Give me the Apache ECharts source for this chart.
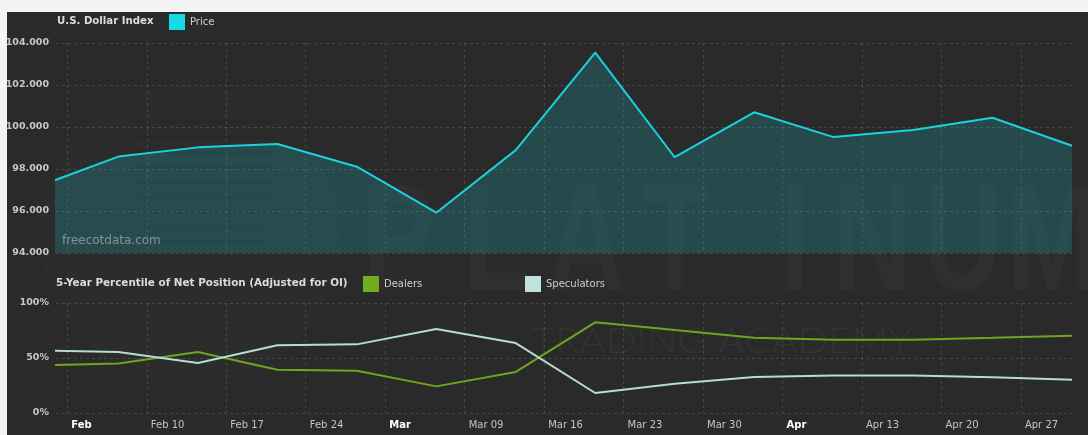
<!DOCTYPE html>
<html>
<head>
<meta charset="utf-8">
<script src="https://cdn.jsdelivr.net/npm/echarts@6/dist/echarts.min.js"></script>
<style>
  html, body { margin: 0; padding: 0; width: 1088px; height: 435px; overflow: hidden; background: #f4f4f4; }
  #panel { position: absolute; left: 7px; top: 12px; width: 1081px; height: 423px; background: #2a2a2a; }
  #chart { position: absolute; left: 0; top: 0; width: 1088px; height: 435px; }
</style>
</head>
<body>
<div id="panel"></div>
<div id="chart"></div>
<script>
// Weekly readings (Friday), 2020
const weekDates = ['2020-01-31', '2020-02-07', '2020-02-14', '2020-02-21', '2020-02-28', '2020-03-06', '2020-03-13',
                   '2020-03-20', '2020-03-27', '2020-04-03', '2020-04-10', '2020-04-17', '2020-04-24', '2020-05-01'];
const price       = [97.19, 98.59, 99.03, 99.19, 98.11, 95.92, 98.90, 103.54, 98.56, 100.70, 99.52, 99.86, 100.44, 99.11];
const dealers     = [43.2, 45.1, 55.5, 39.4, 38.5, 24.2, 37.3, 82.4, 75.5, 68.4, 66.6, 66.6, 68.3, 70.3];
const speculators = [56.9, 55.4, 45.4, 61.5, 62.4, 76.3, 63.6, 18.2, 26.5, 32.8, 34.2, 34.0, 32.4, 30.3];

// Week ticks (Mondays) on the date axis
const weekTicks = ['2020-02-03', '2020-02-10', '2020-02-17', '2020-02-24', '2020-03-02', '2020-03-09', '2020-03-16',
                   '2020-03-23', '2020-03-30', '2020-04-06', '2020-04-13', '2020-04-20', '2020-04-27'];
const axisStart = '2020-02-02';
const monthNames = ['Jan', 'Feb', 'Mar', 'Apr', 'May', 'Jun', 'Jul', 'Aug', 'Sep', 'Oct', 'Nov', 'Dec'];

const DAY = 86400000;
const utc = s => Date.parse(s + 'T00:00:00Z');
// each weekly reading is plotted at midday of its date
const pts = vals => weekDates.map((d, i) => [utc(d) + DAY / 2, vals[i]]);
const tickTimes = weekTicks.map(utc);

const FONT = '"DejaVu Sans", Verdana, sans-serif';
const gridLine = { show: true, lineStyle: { color: 'rgba(255,255,255,0.13)', type: [3, 3], width: 1 } };

function weekLabel(v) {
  const d = new Date(v);
  const m = monthNames[d.getUTCMonth()];
  const day = d.getUTCDate();
  if (day <= 7) return '{mon|' + m + '}';
  return m + ' ' + String(day).padStart(2, '0');
}

// date axis kept in epoch milliseconds
function xAxisCfg(gridIndex, showLabels) {
  return {
    type: 'value',
    gridIndex,
    min: utc(axisStart),
    max: 'dataMax',
    axisLine: { show: false },
    axisTick: { show: false, customValues: tickTimes },
    splitLine: gridLine,
    axisLabel: {
      show: showLabels,
      customValues: tickTimes,
      formatter: weekLabel,
      align: 'left',
      padding: [0, 0, 0, 4],
      margin: 7,
      color: '#c4c4c4',
      fontFamily: FONT,
      fontSize: 10,
      rich: { mon: { color: '#ffffff', fontWeight: 'bold', fontFamily: FONT, fontSize: 10 } }
    }
  };
}

const chart = echarts.init(document.getElementById('chart'), null, { renderer: 'canvas' });

const wm = 'rgba(255,255,255,0.022)';
const letters = [['P', 398], ['L', 497], ['A', 586], ['T', 676], ['I', 795], ['N', 872], ['U', 963], ['M', 1052]];
const yLabel = { color: '#c8c8c8', fontWeight: 'bold', fontSize: 9.5, fontFamily: FONT, margin: 7 };

chart.setOption({
  backgroundColor: 'transparent',
  animation: false,
  textStyle: { fontFamily: FONT },
  title: [
    { text: 'U.S. Dollar Index', left: 57, top: 16, padding: 0,
      textStyle: { color: '#dcdcdc', fontSize: 10.2, fontWeight: 'bold', fontFamily: FONT } },
    { text: '5-Year Percentile of Net Position (Adjusted for OI)', left: 56, top: 278, padding: 0,
      textStyle: { color: '#dcdcdc', fontSize: 10.4, fontWeight: 'bold', fontFamily: FONT } }
  ],
  legend: [
    { data: ['Price'], left: 169, top: 14, padding: 0, icon: 'rect', itemWidth: 16, itemHeight: 16,
      textStyle: { color: '#d0d0d0', fontSize: 10, fontFamily: FONT } },
    { data: ['Dealers'], left: 363, top: 276, padding: 0, icon: 'rect', itemWidth: 16, itemHeight: 16,
      textStyle: { color: '#d0d0d0', fontSize: 10, fontFamily: FONT } },
    { data: ['Speculators'], left: 525, top: 276, padding: 0, icon: 'rect', itemWidth: 16, itemHeight: 16,
      textStyle: { color: '#d0d0d0', fontSize: 10, fontFamily: FONT } }
  ],
  grid: [
    { left: 56, right: 16, top: 43, height: 210 },
    { left: 56, right: 16, top: 303, height: 110 }
  ],
  xAxis: [xAxisCfg(0, false), xAxisCfg(1, true)],
  yAxis: [
    {
      type: 'value', gridIndex: 0, min: 94, max: 104, interval: 2,
      axisLine: { show: false }, axisTick: { show: false }, splitLine: gridLine,
      axisLabel: Object.assign({ formatter: v => v.toFixed(3) }, yLabel)
    },
    {
      type: 'value', gridIndex: 1, min: 0, max: 100, interval: 50,
      axisLine: { show: false }, axisTick: { show: false }, splitLine: gridLine,
      axisLabel: Object.assign({ formatter: v => v + '%' }, yLabel)
    }
  ],
  graphic: [
    // faint brand watermark behind the plots
    { type: 'circle', z: -10, silent: true, shape: { cx: 190, cy: 235, r: 150 }, style: { fill: 'rgba(255,255,255,0.012)' } },
    ...[120, 135, 150, 165, 180, 195, 210, 225, 240].map((y, i) => ({
      type: 'rect', z: -9, silent: true,
      shape: { x: 130 + i * 2, y, width: 150 - i * 4, height: 4, r: 2 },
      style: { fill: 'rgba(0,0,0,0.05)' }
    })),
    ...letters.map(([ch, x]) => ({
      type: 'text', z: -8, silent: true, x, y: 248, scaleX: 0.72,
      style: { text: ch, fill: wm, font: 'bold 152px "Liberation Sans", Arial, sans-serif', align: 'center', verticalAlign: 'middle' }
    })),
    { type: 'text', z: -8, silent: true, x: 722, y: 341, scaleX: 1.12,
      style: { text: 'TRADING ACADEMY', fill: 'rgba(255,255,255,0.045)', font: '300 36px Lato, "Open Sans", sans-serif', align: 'center', verticalAlign: 'middle' } },
    { type: 'text', z: 10, silent: true, x: 62, y: 241,
      style: { text: 'freecotdata.com', fill: 'rgba(255,255,255,0.4)', font: '12px ' + FONT, align: 'left', verticalAlign: 'middle' } }
  ],
  series: [
    {
      name: 'Price', type: 'line', xAxisIndex: 0, yAxisIndex: 0,
      data: pts(price), showSymbol: false, clip: true,
      color: '#12dbe6',
      lineStyle: { width: 2, color: '#1ad3de' },
      areaStyle: { color: 'rgba(24,200,210,0.29)' }
    },
    {
      name: 'Dealers', type: 'line', xAxisIndex: 1, yAxisIndex: 1,
      data: pts(dealers), showSymbol: false, clip: true,
      color: '#73ab22',
      lineStyle: { width: 2, color: '#6fa51f' }
    },
    {
      name: 'Speculators', type: 'line', xAxisIndex: 1, yAxisIndex: 1,
      data: pts(speculators), showSymbol: false, clip: true,
      color: '#bfe3dc',
      lineStyle: { width: 2, color: '#b6dcd4' }
    }
  ]
});
</script>
</body>
</html>
